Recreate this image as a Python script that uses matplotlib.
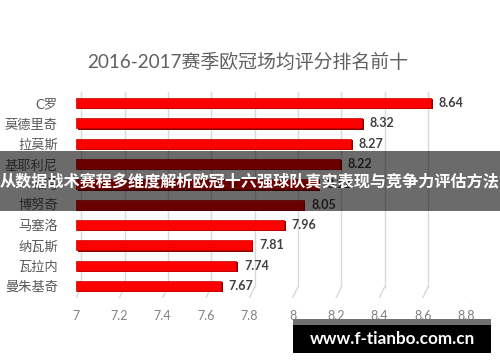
import matplotlib.pyplot as plt
from matplotlib.patches import Rectangle

plt.rcParams['font.family'] = ['Lato', 'Noto Sans CJK SC', 'DejaVu Sans']

players = ["C罗", "莫德里奇", "拉莫斯", "基耶利尼", "布冯", "博努奇", "马塞洛", "纳瓦斯", "瓦拉内", "曼朱基奇"]
ratings = [8.64, 8.32, 8.27, 8.22, 8.12, 8.05, 7.96, 7.81, 7.74, 7.67]
xticks = [7, 7.2, 7.4, 7.6, 7.8, 8, 8.2, 8.4, 8.6, 8.8]
xtick_labels = ["7", "7.2", "7.4", "7.6", "7.8", "8", "8.2", "8.4", "8.6", "8.8"]

title = "2016-2017赛季欧冠场均评分排名前十"
banner = "从数据战术赛程多维度解析欧冠十六强球队真实表现与竞争力评估方法"
site = "www.f-tianbo.com.cn"

W, H = 500, 362
fig = plt.figure(figsize=(W / 100, H / 100), dpi=100)
ax = fig.add_axes([76 / W, 1 - 298 / H, 390 / W, 206 / H])

ypos = list(range(len(players)))
base = xticks[0]

# back-plane gridlines with a slanted foot (fake 3D look)
depth = 0.024
for v in xticks:
    ax.plot([v + depth, v + depth], [-0.54, 9.05], color="#d9d9d9", lw=1, zorder=0)
    ax.plot([v + depth, v], [9.05, 9.59], color="#d9d9d9", lw=1, zorder=0)

# bar shadow + face
ax.barh([y + 0.06 for y in ypos], [r - base for r in ratings], left=base + 0.008, height=0.5,
        color="#8b0000", zorder=2)
ax.barh(ypos, [r - base for r in ratings], left=base, height=0.5,
        color="#ff0000", edgecolor="#c00000", linewidth=0.5, zorder=3)

for y, r in zip(ypos, ratings):
    ax.text(r + 0.035, y, f"{r:.2f}", va="center", ha="left", fontsize=9,
            fontweight="bold", color="#404040")

ax.set_xlim(7, 8.8)
ax.set_ylim(9.59, -0.54)
ax.set_xticks(xticks)
ax.set_xticklabels(xtick_labels, fontsize=9, color="#808080")
ax.set_yticks(ypos)
ax.set_yticklabels(players, fontsize=9.5, color="#595959")
ax.tick_params(axis="x", length=0, pad=9)
ax.tick_params(axis="y", length=0, pad=13)
for s in ax.spines.values():
    s.set_visible(False)

fig.text(248 / W, 1 - 62 / H, title, ha="center", va="center", fontsize=13.6, color="#606060")

# translucent banner over the chart
fig.add_artist(Rectangle((0, 1 - 211 / H), 1, 60 / H, transform=fig.transFigure,
                         facecolor="black", alpha=0.58, zorder=10))
fig.text(0.5, 1 - 181 / H, banner, ha="center", va="center", fontsize=11.6,
         fontweight="bold", color="white", zorder=11)

# site watermark
fig.add_artist(Rectangle((293 / W, 1 - 325 / H), 198 / W, 6 / H, transform=fig.transFigure,
                         facecolor="#707070", zorder=10))
fig.add_artist(Rectangle((293 / W, 1 - 353 / H), 198 / W, 28 / H, transform=fig.transFigure,
                         facecolor="black", zorder=10))
fig.text(392 / W, 1 - 339 / H, site, ha="center", va="center", fontsize=12.3,
         fontweight="bold", color="white", zorder=11)

fig.savefig("out.png", dpi=100)
